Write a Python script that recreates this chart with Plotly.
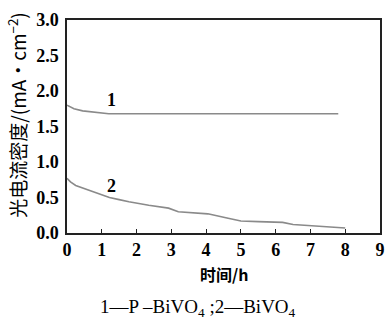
import plotly.graph_objects as go

t1 = [0, 0.2, 0.45, 0.8, 1.2, 2, 3, 4, 5, 6, 7, 7.8]
j1 = [1.80, 1.75, 1.72, 1.70, 1.68, 1.68, 1.68, 1.68, 1.68, 1.68, 1.68, 1.68]

t2 = [0, 0.1, 0.25, 0.65, 1.0, 1.22, 1.5, 1.78, 2.35, 2.92, 3.2, 3.77, 4.05, 4.6, 5.0, 5.5, 6.2, 6.5, 7.2, 7.97, 8.0]
j2 = [0.77, 0.72, 0.67, 0.60, 0.54, 0.50, 0.47, 0.44, 0.39, 0.35, 0.30, 0.28, 0.27, 0.21, 0.17, 0.16, 0.15, 0.12, 0.10, 0.07, 0.07]

xticks = [0, 1, 2, 3, 4, 5, 6, 7, 8, 9]
yticks = [0.0, 0.5, 1.0, 1.5, 2.0, 2.5, 3.0]

serif = "Liberation Serif"
cjk = "Noto Sans CJK SC"
line_col = "#8a8a8a"

fig = go.Figure()
fig.add_trace(go.Scatter(x=t1, y=j1, mode="lines", line=dict(color=line_col, width=1.6), showlegend=False))
fig.add_trace(go.Scatter(x=t2, y=j2, mode="lines", line=dict(color=line_col, width=1.6), showlegend=False))

fig.update_layout(
    width=391, height=322,
    margin=dict(l=67, r=6, t=20, b=89),
    paper_bgcolor="white", plot_bgcolor="white",
    font=dict(family=serif, color="black", size=18),
    xaxis=dict(range=[0, 9], tickvals=xticks, ticktext=[f"<b>{v}</b>" for v in xticks],
               showgrid=False, zeroline=False, showline=True, linecolor="#222", linewidth=1.5,
               mirror=True, ticks="inside", ticklen=4, tickwidth=1, tickcolor="#222",
               tickfont=dict(size=18, family=serif), fixedrange=True),
    yaxis=dict(range=[0, 3], tickvals=yticks, ticktext=[f"<b>{v:.1f}</b>" for v in yticks],
               showgrid=False, zeroline=False, showline=True, linecolor="#222", linewidth=1.5,
               mirror=True, ticks="", ticklabelstandoff=3,
               tickfont=dict(size=18, family=serif), fixedrange=True),
)

ann = [
    dict(text="<b>1</b>", x=1.27, y=1.87, xref="x", yref="y", showarrow=False,
         font=dict(size=18, family=serif)),
    dict(text="<b>2</b>", x=1.27, y=0.66, xref="x", yref="y", showarrow=False,
         font=dict(size=18, family=serif)),
    dict(text="<b>时间/h</b>", x=0.5, y=-0.125, xref="paper", yref="paper", xanchor="center", yanchor="top",
         showarrow=False, font=dict(size=16, family=cjk)),
    dict(text="光电流密度/(mA·cm<sup>−2</sup>)", x=-0.16, y=0.555, xref="paper", yref="paper",
         xanchor="center", yanchor="middle", textangle=-90, showarrow=False,
         font=dict(size=19, family=cjk)),
    dict(text="1—P –BiVO<sub>4</sub> ;2—BiVO<sub>4</sub>", x=0.42, y=-0.35, xref="paper", yref="paper",
         xanchor="center", yanchor="middle", showarrow=False, font=dict(size=19, family=serif)),
]
fig.update_layout(annotations=ann)

fig.write_html("out.html")
